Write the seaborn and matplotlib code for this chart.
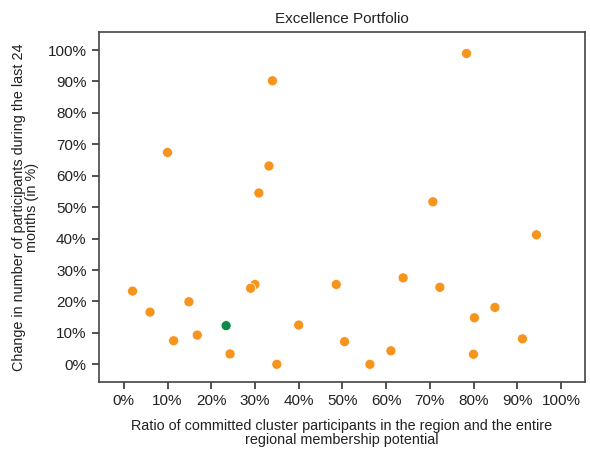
import matplotlib as mpl
mpl.use('Agg')
import matplotlib.pyplot as plt
import numpy as np
import pandas as pd
import seaborn as sns
from matplotlib.ticker import PercentFormatter

# ratio of committed cluster participants (in %)
ratio = [78.4, 34.0, 10.0, 33.2, 30.9, 2.0, 30.0, 29.0, 48.6, 14.9, 6.0,
         40.0, 16.8, 11.4, 50.5, 24.3, 35.0, 70.7, 94.4, 63.9, 72.3, 84.9,
         80.2, 91.2, 61.1, 56.3, 80.0, 23.4]
# change in number of participants during the last 24 months (in %)
change = [98.9, 90.2, 67.4, 63.1, 54.5, 23.3, 25.4, 24.2, 25.4, 19.9, 16.6,
          12.5, 9.3, 7.5, 7.2, 3.3, 0.0, 51.7, 41.2, 27.5, 24.5, 18.1,
          14.8, 8.1, 4.3, 0.0, 3.2, 12.3]
group = ['other'] * 27 + ['highlight']

df = pd.DataFrame({'ratio': ratio, 'change': change, 'group': group})


def setup_figure():
    sns.set_style('white')
    plt.rcParams.update({'font.size': 10,
                         'font.family': ['Liberation Sans', 'DejaVu Sans']})

    fig = plt.figure(figsize=(5.9, 4.5), dpi=100)
    ax = fig.add_axes([0.168, 0.152, 0.8235, 0.776])

    sns.scatterplot(data=df, x='ratio', y='change', hue='group',
                    palette={'other': '#F7941D', 'highlight': '#0B8A45'},
                    s=52, edgecolor='white', linewidth=0.5, legend=False, ax=ax)

    ax.set_xlim(-5.65, 105.5)
    ax.set_ylim(-5.5, 105.6)
    ax.set_xticks(np.arange(0, 101, 10))
    ax.set_yticks(np.arange(0, 101, 10))
    ax.xaxis.set_major_formatter(PercentFormatter(decimals=0))
    ax.yaxis.set_major_formatter(PercentFormatter(decimals=0))
    ax.tick_params(axis='both', direction='out', length=5, width=1.2,
                   color='#333333', labelsize=11, labelcolor='#222222',
                   bottom=True, left=True, pad=4)
    for sp in ax.spines.values():
        sp.set_color('#444444')
        sp.set_linewidth(1.2)

    ax.set_title('Excellence Portfolio', fontsize=11, color='#222222', pad=7)
    ax.set_xlabel('Ratio of committed cluster participants in the region and the entire\n'
                  'regional membership potential', fontsize=10.4, color='#222222',
                  labelpad=8, linespacing=0.95)
    ax.set_ylabel('Change in number of participants during the last 24\n'
                  'months (in %)', fontsize=10.4, color='#222222',
                  labelpad=6, linespacing=0.95)

    fig.savefig('out.png', dpi=100)


if __name__ == '__main__':
    setup_figure()
